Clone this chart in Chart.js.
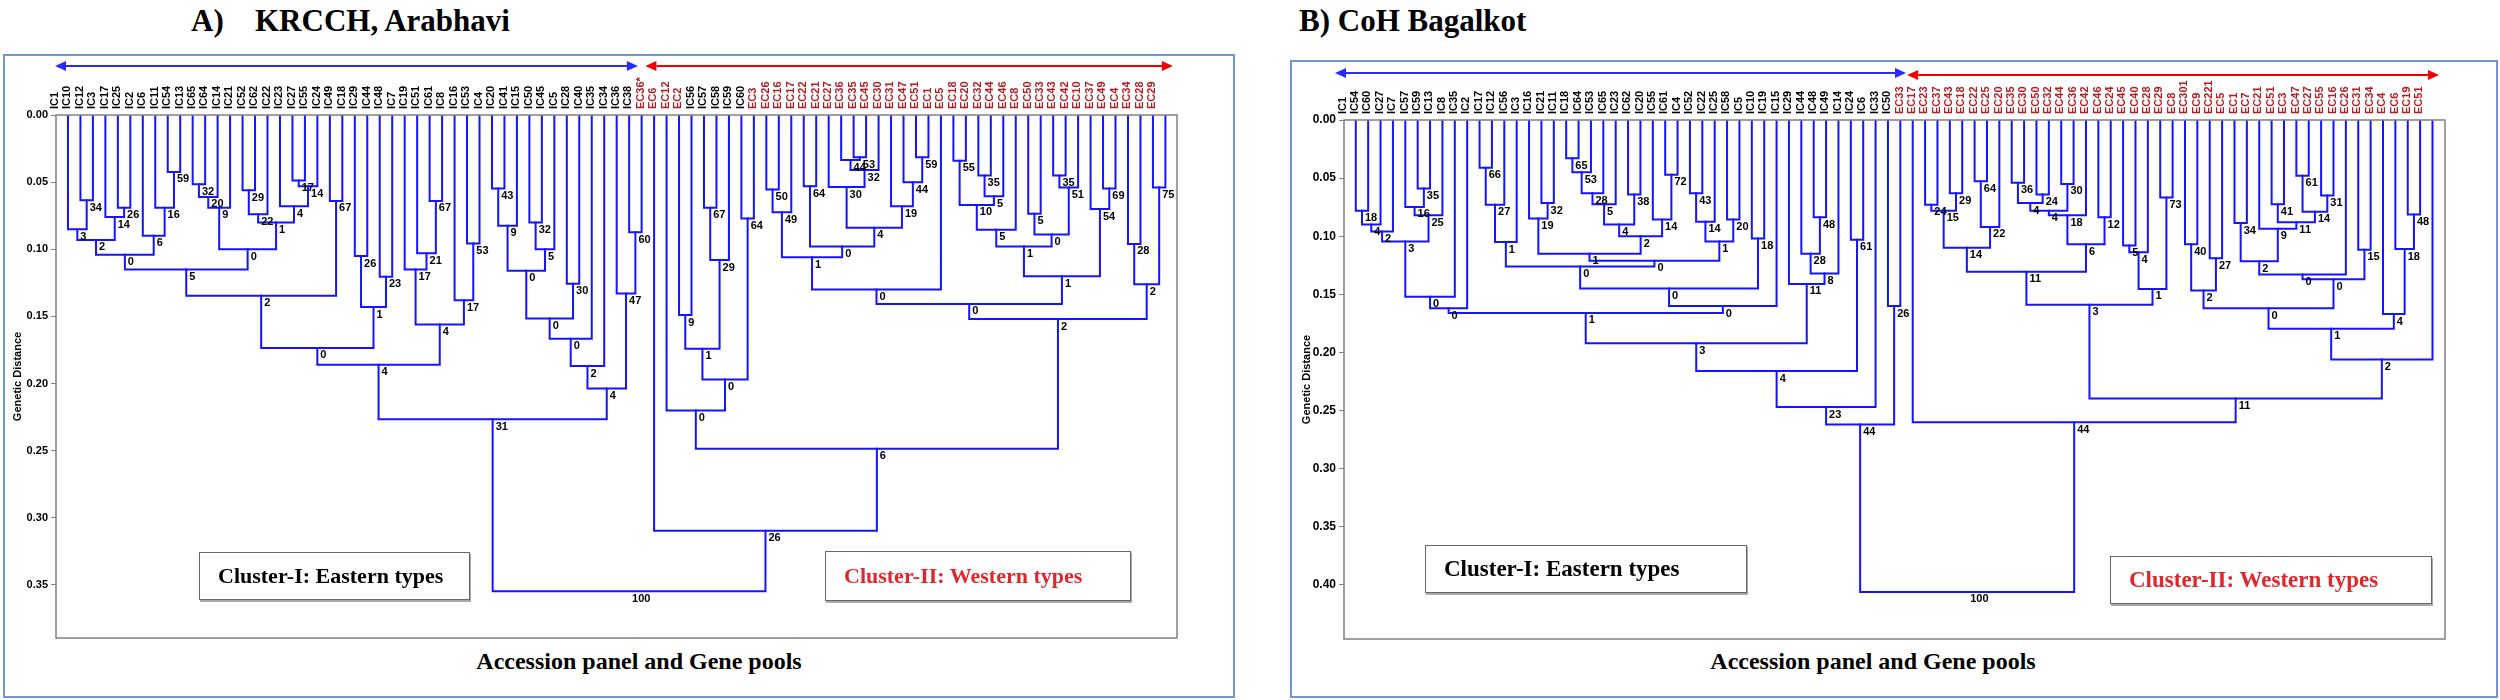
<!DOCTYPE html>
<html>
<head>
<meta charset="utf-8">
<script src="https://cdn.jsdelivr.net/npm/chart.js@4.4.1/dist/chart.umd.min.js"></script>
<style>
  body { margin: 0; width: 2500px; height: 700px; background: #fff; position: relative; overflow: hidden; }
  .frame { position: absolute; border: 2px solid #7094d4; box-sizing: border-box; }
  .title { position: absolute; top: 5px; font: bold 31px "Liberation Serif", "Times New Roman", serif; line-height: 1; white-space: pre; }
  .caption { position: absolute; top: 649px; font: bold 24px "Liberation Serif", "Times New Roman", serif; line-height: 1; white-space: nowrap; transform: translateX(-50%); }
  .legend { position: absolute; z-index: 2; background: #fff; border: 1.5px solid #666; box-shadow: 1px 2px 0 #aaa; box-sizing: border-box;
            display: flex; align-items: center; padding-left: 18px; font: bold 22px "Liberation Serif", "Times New Roman", serif; white-space: nowrap; }
  canvas { position: absolute; top: 0; z-index: 1; }
</style>
</head>
<body>
<div class="frame" style="left:3px;top:54px;width:1232px;height:644px"></div>
<div class="frame" style="left:1290px;top:60px;width:1208px;height:638px"></div>

<div class="title" style="left:191px">A)</div>
<div class="title" style="left:255px">KRCCH, Arabhavi</div>
<div class="title" style="left:1299px">B) CoH Bagalkot</div>

<canvas id="chartA" width="1250" height="700" style="left:0"></canvas>
<canvas id="chartB" width="1250" height="700" style="left:1250px"></canvas>

<div class="legend" style="left:199px;top:552px;width:271px;height:48px;color:#000">Cluster-I: Eastern types</div>
<div class="legend" style="left:825px;top:551px;width:306px;height:50px;color:#e0282c">Cluster-II: Western types</div>
<div class="legend" style="left:1425px;top:545px;width:322px;height:48px;color:#000;font-size:23px">Cluster-I: Eastern types</div>
<div class="legend" style="left:2110px;top:556px;width:322px;height:48px;color:#e0282c;font-size:23px">Cluster-II: Western types</div>

<div class="caption" style="left:639px">Accession panel and Gene pools</div>
<div class="caption" style="left:1873px">Accession panel and Gene pools</div>

<script>
// leaf order, left to right
const leavesA = ['IC1', 'IC10', 'IC12', 'IC3', 'IC17', 'IC25', 'IC2', 'IC6', 'IC11', 'IC54',
  'IC13', 'IC65', 'IC64', 'IC14', 'IC21', 'IC52', 'IC62', 'IC22', 'IC23', 'IC27',
  'IC55', 'IC24', 'IC49', 'IC18', 'IC29', 'IC44', 'IC48', 'IC7', 'IC19', 'IC51',
  'IC61', 'IC8', 'IC16', 'IC53', 'IC4', 'IC20', 'IC41', 'IC15', 'IC50', 'IC45',
  'IC5', 'IC28', 'IC40', 'IC35', 'IC34', 'IC36', 'IC38', 'EC36*', 'EC6', 'EC12',
  'EC2', 'IC56', 'IC57', 'IC58', 'IC59', 'IC60', 'EC3', 'EC26', 'EC16', 'EC17',
  'EC22', 'EC21', 'EC27', 'EC36', 'EC35', 'EC45', 'EC30', 'EC31', 'EC47', 'EC51',
  'EC1', 'EC5', 'EC18', 'EC20', 'EC32', 'EC44', 'EC46', 'EC8', 'EC50', 'EC33',
  'EC43', 'EC42', 'EC10', 'EC37', 'EC49', 'EC4', 'EC34', 'EC28', 'EC29']

// merges: [first leaf, last leaf of left child, last leaf, distance, bootstrap]
const linksA = [
  [1, 1, 2, 0.0635, 34], [0, 0, 2, 0.085, 3], [4, 4, 5, 0.069, 26], [3, 3, 5, 0.076, 14],
  [0, 2, 5, 0.093, 2], [8, 8, 9, 0.0424, 59], [7, 7, 9, 0.069, 16], [6, 6, 9, 0.090, 6],
  [0, 5, 9, 0.104, 0], [10, 10, 11, 0.0516, 32], [10, 11, 12, 0.061, 20], [10, 12, 13, 0.069, 9],
  [14, 14, 15, 0.056, 29], [14, 15, 16, 0.074, 22], [18, 18, 19, 0.0488, 17], [18, 19, 20, 0.053, 14],
  [17, 17, 20, 0.068, 4], [14, 16, 20, 0.080, 1], [10, 13, 20, 0.100, 0], [0, 9, 20, 0.115, 5],
  [21, 21, 22, 0.064, 67], [0, 20, 22, 0.1346, 2], [23, 23, 24, 0.105, 26], [25, 25, 26, 0.1205, 23],
  [23, 24, 26, 0.143, 1], [0, 22, 26, 0.1735, 0], [29, 29, 30, 0.064, 67], [28, 28, 30, 0.103, 21],
  [27, 27, 30, 0.115, 17], [32, 32, 33, 0.0957, 53], [31, 31, 33, 0.138, 17], [27, 30, 33, 0.156, 4],
  [0, 26, 33, 0.186, 4], [34, 34, 35, 0.0548, 43], [34, 35, 36, 0.0825, 9], [37, 37, 38, 0.080, 32],
  [37, 38, 39, 0.100, 5], [34, 36, 39, 0.116, 0], [40, 40, 41, 0.1257, 30], [34, 39, 41, 0.1515, 0],
  [34, 41, 42, 0.1666, 0], [34, 42, 43, 0.187, 2], [45, 45, 46, 0.0874, 60], [44, 44, 46, 0.133, 47],
  [34, 43, 46, 0.2036, 4], [0, 33, 46, 0.2266, 31],
  [49, 49, 50, 0.149, 9], [51, 51, 52, 0.069, 67], [51, 52, 53, 0.108, 29], [54, 54, 55, 0.077, 64],
  [49, 50, 53, 0.174, 1], [49, 53, 55, 0.197, 0], [48, 48, 55, 0.220, 0], [56, 56, 57, 0.0555, 50],
  [56, 57, 58, 0.0725, 49], [59, 59, 60, 0.053, 64], [63, 63, 64, 0.0315, 53], [62, 62, 64, 0.0335, 44],
  [62, 64, 65, 0.041, 32], [61, 61, 65, 0.0537, 30], [68, 68, 69, 0.0314, 59], [67, 67, 69, 0.050, 44],
  [66, 66, 69, 0.068, 19], [61, 65, 69, 0.084, 4], [59, 60, 69, 0.098, 0], [56, 58, 69, 0.106, 1],
  [56, 69, 70, 0.130, 0], [71, 71, 72, 0.034, 55], [73, 73, 74, 0.045, 35], [73, 74, 75, 0.0605, 5],
  [71, 72, 75, 0.067, 10], [71, 75, 76, 0.0855, 5], [77, 77, 78, 0.0735, 5], [79, 79, 80, 0.045, 35],
  [79, 80, 81, 0.054, 51], [77, 78, 81, 0.089, 0], [71, 76, 81, 0.098, 1], [83, 83, 84, 0.0547, 69],
  [82, 82, 84, 0.070, 54], [71, 81, 84, 0.120, 1], [56, 70, 84, 0.1407, 0], [85, 85, 86, 0.096, 28],
  [87, 87, 88, 0.054, 75], [85, 86, 88, 0.126, 2], [56, 84, 88, 0.152, 2], [48, 55, 88, 0.2485, 6],
  [47, 47, 88, 0.3096, 26], [0, 46, 88, 0.3547, 100]
]
const ticksA = [0, 0.05, 0.10, 0.15, 0.20, 0.25, 0.30, 0.35]

const leavesB = ['IC1', 'IC54', 'IC60', 'IC27', 'IC7', 'IC57', 'IC59', 'IC13', 'IC8', 'IC35',
  'IC2', 'IC17', 'IC12', 'IC56', 'IC3', 'IC16', 'IC21', 'IC11', 'IC18', 'IC64',
  'IC53', 'IC65', 'IC23', 'IC62', 'IC20', 'IC55', 'IC61', 'IC4', 'IC52', 'IC22',
  'IC25', 'IC58', 'IC5', 'IC10', 'IC19', 'IC15', 'IC29', 'IC44', 'IC48', 'IC49',
  'IC14', 'IC24', 'IC6', 'IC33', 'IC50', 'EC33', 'EC17', 'EC23', 'EC37', 'EC43',
  'EC18', 'EC22', 'EC25', 'EC20', 'EC35', 'EC30', 'EC50', 'EC32', 'EC44', 'EC36',
  'EC42', 'EC46', 'EC24', 'EC45', 'EC40', 'EC28', 'EC29', 'EC8', 'EC301', 'EC9',
  'EC221', 'EC5', 'EC1', 'EC7', 'EC21', 'EC51', 'EC3', 'EC47', 'EC27', 'EC55',
  'EC16', 'EC26', 'EC31', 'EC34', 'EC4', 'EC6', 'EC19', 'EC51']

const linksB = [
  [0, 0, 1, 0.078, 18], [0, 1, 2, 0.090, 4], [0, 2, 3, 0.096, 2], [5, 5, 6, 0.059, 35],
  [4, 4, 6, 0.0748, 16], [4, 6, 7, 0.082, 25], [0, 3, 7, 0.1045, 3], [0, 7, 8, 0.152, 0],
  [0, 8, 9, 0.162, 0], [10, 10, 11, 0.041, 66], [10, 11, 12, 0.073, 27], [10, 12, 13, 0.105, 1],
  [15, 15, 16, 0.0715, 32], [14, 14, 16, 0.0847, 19], [17, 17, 18, 0.033, 65], [17, 18, 19, 0.045, 53],
  [17, 19, 20, 0.063, 28], [17, 20, 21, 0.0725, 5], [22, 22, 23, 0.064, 38], [17, 21, 23, 0.090, 4],
  [25, 25, 26, 0.047, 72], [24, 24, 26, 0.0857, 14], [17, 23, 26, 0.100, 2], [14, 16, 26, 0.115, 1],
  [27, 27, 28, 0.063, 43], [27, 28, 29, 0.0876, 14], [30, 30, 31, 0.0857, 20], [27, 29, 31, 0.1045, 1],
  [14, 26, 31, 0.121, 0], [10, 13, 31, 0.126, 0], [32, 32, 33, 0.102, 18], [10, 31, 33, 0.145, 0],
  [10, 33, 34, 0.160, 0], [0, 9, 34, 0.166, 1], [37, 37, 38, 0.0837, 48], [36, 36, 38, 0.115, 28],
  [36, 38, 39, 0.132, 8], [35, 35, 39, 0.141, 11], [0, 34, 39, 0.192, 3], [40, 40, 41, 0.103, 61],
  [0, 39, 41, 0.216, 4], [0, 41, 42, 0.247, 23], [43, 43, 44, 0.160, 26], [0, 42, 44, 0.262, 44],
  [46, 46, 47, 0.073, 24], [48, 48, 49, 0.063, 29], [46, 47, 49, 0.078, 15], [50, 50, 51, 0.0527, 64],
  [50, 51, 52, 0.092, 22], [46, 49, 52, 0.110, 14], [53, 53, 54, 0.054, 36], [55, 55, 56, 0.064, 24],
  [53, 54, 56, 0.0715, 4], [57, 57, 58, 0.055, 30], [53, 56, 58, 0.078, 4], [53, 58, 59, 0.082, 18],
  [60, 60, 61, 0.0837, 12], [53, 59, 61, 0.107, 6], [46, 52, 61, 0.1305, 11], [62, 62, 63, 0.108, 5],
  [62, 63, 64, 0.1137, 4], [65, 65, 66, 0.0666, 73], [62, 64, 66, 0.1453, 1], [46, 61, 66, 0.159, 3],
  [67, 67, 68, 0.1068, 40], [69, 69, 70, 0.119, 27], [67, 68, 70, 0.1466, 2], [71, 71, 72, 0.0886, 34],
  [74, 74, 75, 0.0725, 41], [76, 76, 77, 0.048, 61], [78, 78, 79, 0.065, 31], [76, 77, 79, 0.079, 14],
  [74, 75, 79, 0.088, 11], [73, 73, 79, 0.0936, 9], [71, 72, 79, 0.1216, 2], [71, 79, 80, 0.133, 0],
  [81, 81, 82, 0.1117, 15], [71, 80, 82, 0.137, 0], [67, 70, 82, 0.162, 0], [85, 85, 86, 0.0814, 48],
  [84, 84, 86, 0.111, 18], [83, 83, 86, 0.167, 4], [67, 82, 86, 0.1796, 1], [67, 86, 87, 0.206, 2],
  [46, 66, 87, 0.2395, 11], [45, 45, 87, 0.260, 44], [0, 44, 87, 0.406, 100]
]
const ticksB = [0, 0.05, 0.10, 0.15, 0.20, 0.25, 0.30, 0.35, 0.40]

const LINE_BLUE = '#1414ff'
const LEAF_RED = '#b51c22'
const SANS = '"Liberation Sans", Arial, sans-serif'

function drawArrow(ctx, x1, x2, y, color) {
  const head = 11
  ctx.strokeStyle = color
  ctx.fillStyle = color
  ctx.lineWidth = 2
  ctx.beginPath()
  ctx.moveTo(x1 + head, y)
  ctx.lineTo(x2 - head, y)
  ctx.stroke()
  ctx.beginPath()
  ctx.moveTo(x1, y); ctx.lineTo(x1 + head, y - 5); ctx.lineTo(x1 + head, y + 5)
  ctx.fill()
  ctx.beginPath()
  ctx.moveTo(x2, y); ctx.lineTo(x2 - head, y - 5); ctx.lineTo(x2 - head, y + 5)
  ctx.fill()
}

const dendroPlugin = {
  id: 'dendro',
  afterDatasetsDraw(chart, args, opts) {
    const { ctx, chartArea: a, scales: { x, y } } = chart
    ctx.save()
    ctx.strokeStyle = '#808080'
    ctx.lineWidth = 1.5
    ctx.strokeRect(a.left, a.top, a.right - a.left, a.bottom - a.top)
    ctx.fillStyle = '#000'
    ctx.font = 'bold 11px ' + SANS
    ctx.textAlign = 'left'
    ctx.textBaseline = 'top'
    opts.nodes.forEach((n) => {
      ctx.fillText(n.text, x.getPixelForValue(n.x) + 3, y.getPixelForValue(n.h) + 2)
    })
    opts.arrows.forEach((ar) => {
      drawArrow(ctx, x.getPixelForValue(ar.from), x.getPixelForValue(ar.to), ar.y, ar.color)
    })
    ctx.restore()
  }
}

function drawDendrogram(canvasId, leaves, links, ticks, box) {
  const nodes = {}
  const pick = (a, b) => a === b ? { x: a, h: 0 } : nodes[a + '-' + b]
  const datasets = []
  const labels = []
  links.forEach(([from, split, to, h, support]) => {
    const l = pick(from, split)
    const r = pick(split + 1, to)
    const node = { x: (l.x + r.x) / 2, h: h }
    nodes[from + '-' + to] = node
    labels.push({ x: node.x, h: h, text: String(support) })
    datasets.push({
      data: [{ x: l.x, y: l.h }, { x: l.x, y: h }, { x: r.x, y: h }, { x: r.x, y: r.h }],
      showLine: true,
      borderColor: LINE_BLUE,
      borderWidth: 2,
      borderJoinStyle: 'miter',
      borderCapStyle: 'square',
      pointRadius: 0,
      tension: 0,
      fill: false,
    })
  })

  new Chart(document.getElementById(canvasId), {
    type: 'scatter',
    data: { datasets: datasets },
    plugins: [dendroPlugin],
    options: {
      responsive: false,
      animation: false,
      devicePixelRatio: 1,
      layout: { padding: box.padding },
      plugins: {
        legend: { display: false },
        tooltip: { enabled: false },
        dendro: { nodes: labels, arrows: box.arrows },
      },
      scales: {
        x: {
          type: 'linear',
          position: 'top',
          min: box.xMin,
          max: box.xMax,
          afterBuildTicks: (scale) => { scale.ticks = leaves.map((name, i) => ({ value: i })) },
          afterFit: (scale) => { scale.height = box.axisHeight },
          grid: { display: false, drawTicks: false },
          border: { display: false },
          ticks: {
            autoSkip: false,
            minRotation: 90,
            maxRotation: 90,
            padding: 6,
            font: { family: SANS, size: 11, weight: 'bold' },
            color: (ctx) => leaves[ctx.index] && leaves[ctx.index].startsWith('EC') ? LEAF_RED : '#000',
            callback: (value) => leaves[value],
          },
        },
        y: {
          type: 'linear',
          reverse: true,
          min: 0,
          max: box.yMax,
          afterBuildTicks: (scale) => { scale.ticks = ticks.map((v) => ({ value: v })) },
          afterFit: (scale) => { scale.width = box.axisWidth },
          grid: { display: true, drawOnChartArea: false, tickLength: 5, color: '#808080', lineWidth: 1 },
          border: { display: false },
          ticks: {
            padding: 3,
            color: '#000',
            font: { family: SANS, size: box.tickSize, weight: 'bold' },
            callback: (value) => value.toFixed(2),
          },
          title: {
            display: true,
            text: 'Genetic Distance',
            color: '#000',
            font: { family: SANS, size: 11, weight: 'bold' },
            padding: { top: box.titlePad, bottom: 0 },
          },
        },
      },
    },
  })
}

drawDendrogram('chartA', leavesA, linksA, ticksA, {
  xMin: -0.96, xMax: 88.93, yMax: 0.3895,
  axisWidth: 56, axisHeight: 115, tickSize: 11, titlePad: 11,
  padding: { left: 0, top: 0, right: 73, bottom: 62 },
  arrows: [
    { from: -1.04, to: 45.7, y: 66, color: '#2a2aff' },
    { from: 46.3, to: 88.6, y: 66, color: '#f00000' },
  ],
})

drawDendrogram('chartB', leavesB, linksB, ticksB, {
  xMin: -0.953, xMax: 88.01, yMax: 0.4465,
  axisWidth: 54, axisHeight: 120, tickSize: 12, titlePad: 10,
  padding: { left: 40, top: 0, right: 55, bottom: 61 },
  arrows: [
    { from: -1.68, to: 44.46, y: 73, color: '#2a2aff' },
    { from: 44.55, to: 87.53, y: 75, color: '#f00000' },
  ],
})
</script>
</body>
</html>
